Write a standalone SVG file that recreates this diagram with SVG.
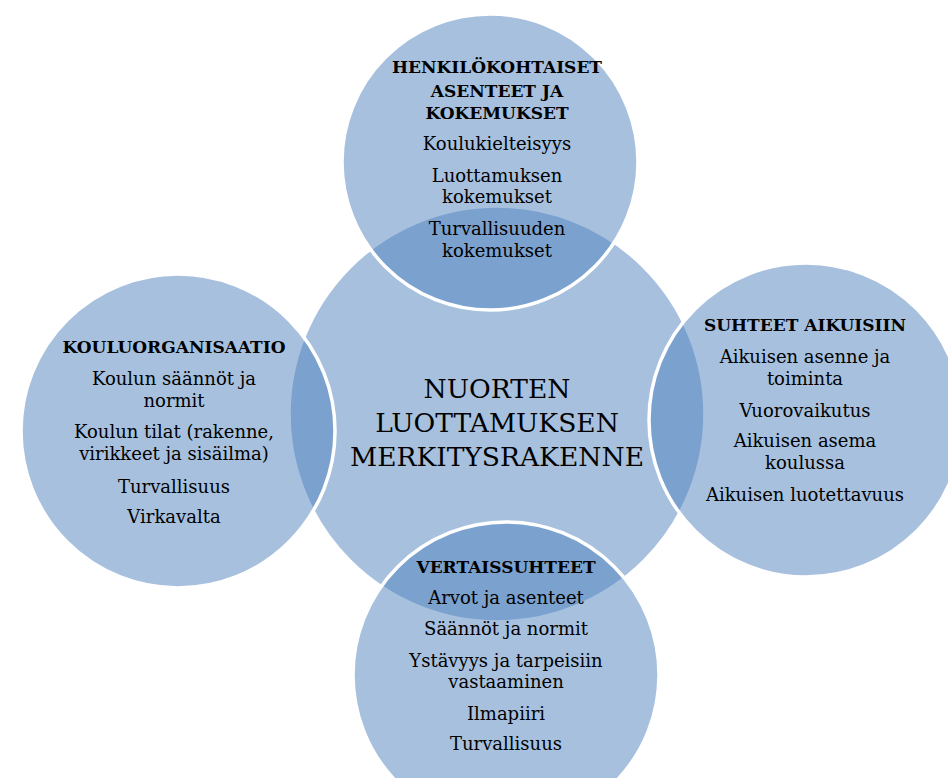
<svg xmlns="http://www.w3.org/2000/svg" width="948" height="778" viewBox="0 0 948 778">
<style>
.c{fill:#4F81BD;fill-opacity:0.5;stroke:#FFFFFF;stroke-width:3.5}
text{font-family:"DejaVu Serif","Liberation Serif",serif;fill:#000;text-anchor:middle}
.h{font-weight:bold;font-size:17px}
.t{font-size:18px}
.m{font-size:26.5px}
</style>
<rect width="948" height="778" fill="#FFFFFF"/>
<g id="center">
<circle class="c" cx="497" cy="414" r="208"/>
</g>
<g id="top">
<circle class="c" cx="490" cy="162" r="148"/>
</g>
<g id="left">
<circle class="c" cx="178" cy="431" r="157"/>
</g>
<g id="right">
<circle class="c" cx="806" cy="420" r="157"/>
</g>
<g id="bottom">
<circle class="c" cx="506" cy="675" r="153"/>
</g>
<g id="center-text">
<text class="m" x="497" y="398">NUORTEN</text>
<text class="m" x="497" y="432">LUOTTAMUKSEN</text>
<text class="m" x="497" y="466">MERKITYSRAKENNE</text>
</g>
<g id="top-text">
<text class="h" x="497" y="73">HENKILÖKOHTAISET</text>
<text class="h" x="497" y="97">ASENTEET JA</text>
<text class="h" x="497" y="119">KOKEMUKSET</text>
<text class="t" x="497" y="150">Koulukielteisyys</text>
<text class="t" x="497" y="182">Luottamuksen</text>
<text class="t" x="497" y="203">kokemukset</text>
<text class="t" x="497" y="235">Turvallisuuden</text>
<text class="t" x="497" y="257">kokemukset</text>
</g>
<g id="left-text">
<text class="h" x="174" y="353">KOULUORGANISAATIO</text>
<text class="t" x="174" y="385">Koulun säännöt ja</text>
<text class="t" x="174" y="407">normit</text>
<text class="t" x="174" y="438">Koulun tilat (rakenne,</text>
<text class="t" x="174" y="460">virikkeet ja sisäilma)</text>
<text class="t" x="174" y="493">Turvallisuus</text>
<text class="t" x="174" y="523">Virkavalta</text>
</g>
<g id="right-text">
<text class="h" x="805" y="331">SUHTEET AIKUISIIN</text>
<text class="t" x="805" y="363">Aikuisen asenne ja</text>
<text class="t" x="805" y="385">toiminta</text>
<text class="t" x="805" y="417">Vuorovaikutus</text>
<text class="t" x="805" y="447">Aikuisen asema</text>
<text class="t" x="805" y="469">koulussa</text>
<text class="t" x="805" y="501">Aikuisen luotettavuus</text>
</g>
<g id="bottom-text">
<text class="h" x="506" y="573">VERTAISSUHTEET</text>
<text class="t" x="506" y="604">Arvot ja asenteet</text>
<text class="t" x="506" y="635">Säännöt ja normit</text>
<text class="t" x="506" y="667">Ystävyys ja tarpeisiin</text>
<text class="t" x="506" y="688">vastaaminen</text>
<text class="t" x="506" y="720">Ilmapiiri</text>
<text class="t" x="506" y="750">Turvallisuus</text>
</g>
<g id="connectors"></g>
</svg>
